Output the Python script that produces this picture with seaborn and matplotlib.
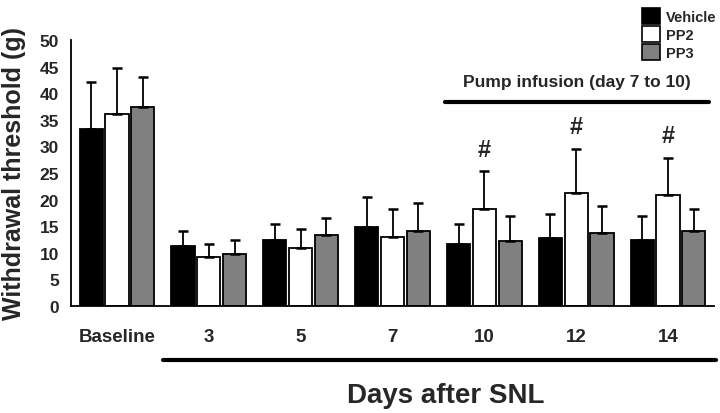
import matplotlib
matplotlib.use("Agg")
import matplotlib.pyplot as plt
import seaborn as sns
import pandas as pd
import numpy as np
from matplotlib.lines import Line2D
from matplotlib.patches import Patch

days = ["Baseline", "3", "5", "7", "10", "12", "14"]
groups = ["Vehicle", "PP2", "PP3"]
vehicle = [33.2, 11.35, 12.4, 14.9, 11.7, 12.7, 12.4]
pp2 = [36.0, 9.2, 10.9, 13.0, 18.3, 21.2, 20.8]
pp3 = [37.4, 9.85, 13.4, 14.1, 12.3, 13.7, 14.1]
vehicle_sd = [8.9, 2.75, 3.1, 5.6, 3.8, 4.6, 4.5]
pp2_sd = [8.8, 2.4, 3.5, 5.3, 7.0, 8.4, 7.1]
pp3_sd = [5.6, 2.55, 3.1, 5.3, 4.6, 5.1, 4.2]
sig_days = ["10", "12", "14"]
y_ticks = [0, 5, 10, 15, 20, 25, 30, 35, 40, 45, 50]

colors = ["#000000", "#ffffff", "#808080"]

sns.set_theme(style="white")
plt.rcParams['font.family'] = ['Liberation Sans', 'DejaVu Sans']

df = pd.DataFrame({
    "day": days * 3,
    "group": [g for g in groups for _ in days],
    "value": vehicle + pp2 + pp3,
})
sds = [vehicle_sd, pp2_sd, pp3_sd]

fig = plt.figure(figsize=(7.2, 4.14), dpi=100)
ax = fig.add_axes([71/720, 1 - 307/414, (714 - 71)/720, (307 - 41)/414])

sns.barplot(data=df, x="day", y="value", hue="group", order=days,
            hue_order=groups, palette=colors, errorbar=None,
            width=0.84, gap=0.1, edgecolor="black", linewidth=1.3,
            saturation=1, ax=ax, legend=False)

bar_containers = list(ax.containers)
centers = []
for ci, cont in enumerate(bar_containers):
    for bi, bar in enumerate(cont.patches):
        cx = bar.get_x() + bar.get_width() / 2
        h = bar.get_height()
        centers.append(cx)
        ax.errorbar([cx], [h], yerr=[[0], [sds[ci][bi]]], fmt="none",
                    ecolor="black", elinewidth=1.3, capsize=3.5,
                    capthick=1.8, zorder=1)
        if ci == 1 and days[bi] in sig_days:
            ax.text(cx, h + sds[ci][bi] + 2.0, "#", ha="center", va="bottom",
                    fontsize=17, fontweight="bold")

ax.set_ylim(0, 50)
ax.set_xlim(-0.5, 6.5)
ax.set_yticks(y_ticks)
ax.set_xticks(range(len(days)))
ax.set_xticklabels(days, fontsize=13.5, fontweight="bold")
ax.set_xticks(sorted(centers), minor=True)
ax.tick_params(axis="x", which="major", length=0, pad=16)
ax.tick_params(axis="x", which="minor", length=4, width=1, color="black", direction="out")
ax.tick_params(axis="y", length=5, width=1, color="black", direction="out",
               labelsize=12.5)
for lab in ax.get_yticklabels():
    lab.set_fontweight("bold")
ax.set_xlabel("")
ax.set_ylabel("Withdrawal threshold (g)", fontsize=18, fontweight="bold", labelpad=10)
for s in ["top", "right"]:
    ax.spines[s].set_visible(False)
for s in ["left", "bottom"]:
    ax.spines[s].set_color("black")
    ax.spines[s].set_linewidth(1.3)

# pump infusion line and label
fig.add_artist(Line2D([445/720, 709/720], [1 - 103/414, 1 - 103/414],
                      color="black", lw=3))
fig.text(577/720, 1 - 83/414, "Pump infusion (day 7 to 10)", ha="center",
         va="center", fontsize=12.5, fontweight="bold")

# bottom line and x label
fig.add_artist(Line2D([163/720, 716/720], [1 - 361/414, 1 - 361/414],
                      color="black", lw=3))
fig.text(446/720, 1 - 396/414, "Days after SNL", ha="center", va="center",
         fontsize=20, fontweight="bold")

# legend
handles = [Patch(facecolor=c, edgecolor="black", linewidth=1.2) for c in colors]
fig.legend(handles, groups, loc="upper left", bbox_to_anchor=(635/720, 1 - 2/414),
           frameon=False, handlelength=1.2, handleheight=1.3,
           labelspacing=0.15, handletextpad=0.4, borderpad=0,
           prop={"weight": "bold", "size": 10.5})

fig.savefig("out.png", dpi=100)
